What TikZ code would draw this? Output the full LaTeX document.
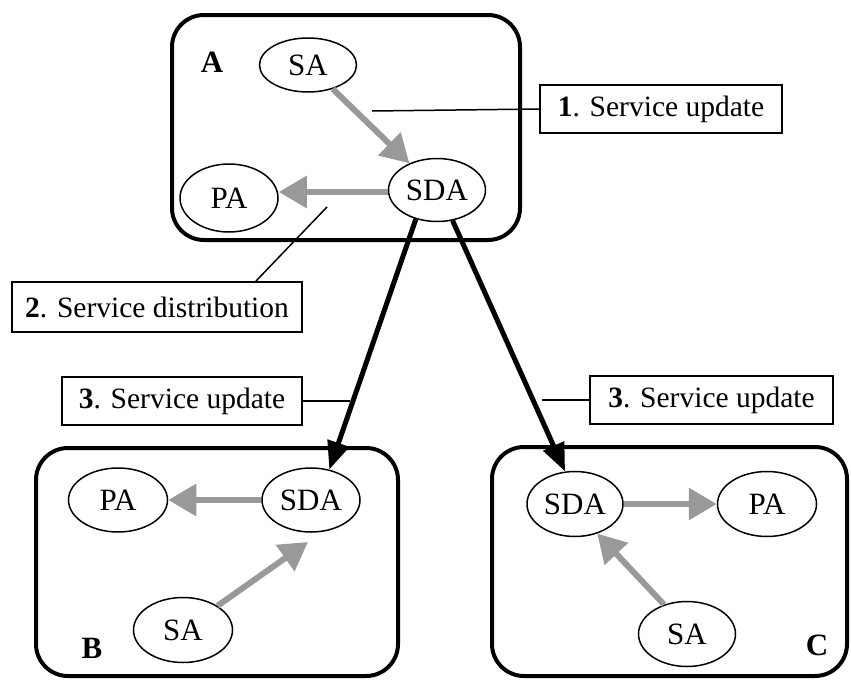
\documentclass[tikz,border=0pt]{standalone}
\usepackage{fontspec}
\setmainfont{Liberation Serif}
\usetikzlibrary{shapes.geometric,arrows.meta,calc}
\tikzset{
  agent/.style={draw=black,line width=1.5pt,ellipse,inner sep=0pt,font=\fontsize{31}{36}\selectfont},
  hostbox/.style={draw=black,line width=4pt,rounded corners=32pt},
  hostlabel/.style={font=\fontsize{31}{36}\selectfont\bfseries,inner sep=0pt},
  notebox/.style={draw=black,line width=1.8pt,rectangle,inner sep=0pt,minimum height=48pt,font=\fontsize{29.5}{34}\selectfont},
  noteline/.style={draw=black,line width=1.5pt},
  localflow/.style={draw=black!40,line width=6pt,-{Triangle[length=28pt,width=31pt]}},
  remoteflow/.style={draw=black,line width=5pt,-{Triangle[length=28pt,width=22pt]}}
}
\begin{document}
\begin{tikzpicture}[x=1pt,y=-1pt]
\useasboundingbox (0,0) rectangle (851,680);
% host boxes
\draw[hostbox] (172,15) rectangle (520,240);
\draw[hostbox] (36,448) rectangle (398,676);
\draw[hostbox] (492,447) rectangle (847,676);
\node[hostlabel] (hA) at (212,62) {A};
\node[hostlabel] (hB) at (92,648) {B};
\node[hostlabel] (hC) at (817,645) {C};
% agents in A
\node[agent,minimum width=97pt,minimum height=54pt] (saA) at (308,65) {SA};
\node[agent,minimum width=97pt,minimum height=63pt] (sdaA) at (437,190) {SDA};
\node[agent,minimum width=98pt,minimum height=68pt] (paA) at (229,198) {PA};
% agents in B
\node[agent,minimum width=99pt,minimum height=64pt] (paB) at (118,500) {PA};
\node[agent,minimum width=98pt,minimum height=64pt] (sdaB) at (311,500) {SDA};
\node[agent,minimum width=99pt,minimum height=65pt] (saB) at (183,630) {SA};
% agents in C
\node[agent,minimum width=96pt,minimum height=65pt] (sdaC) at (575,504) {SDA};
\node[agent,minimum width=99pt,minimum height=65pt] (paC) at (767,504) {PA};
\node[agent,minimum width=97pt,minimum height=65pt] (saC) at (687,634) {SA};
% local flows
\draw[localflow] (saA) -- (sdaA);
\draw[localflow] ([yshift=-2pt]sdaA.west) -- ([yshift=-2pt]sdaA.west -| paA.east);
\draw[localflow] (sdaB) -- (paB);
\coordinate (tipB) at (308,542);
\draw[localflow] (saB.35) -- (tipB);
\draw[localflow] (sdaC) -- (paC);
\draw[localflow] (saC.128) -- (sdaC.-53);
% remote flows
\draw[remoteflow] (sdaA.234) -- (sdaB.59);
\draw[remoteflow] (sdaA.-63) -- (sdaC.107);
% notes
\node[notebox,minimum width=242pt] (lab1) at (661,109) {\textbf{1}. Service update};
\node[notebox,minimum width=290pt,minimum height=50pt] (lab2) at (157,307) {\textbf{2}. Service distribution};
\node[notebox,minimum width=240pt] (lab3L) at (182,401) {\textbf{3}. Service update};
\node[notebox,minimum width=243pt] (lab3R) at (711.5,400) {\textbf{3}. Service update};
\coordinate (l1) at (372,111);
\coordinate (l2) at (327,207);
\coordinate (c3L) at (350,401);
\coordinate (c3R) at (542,400);
\draw[noteline] (l1) -- (lab1.west);
\draw[noteline] (l2) -- ([xshift=-47pt]lab2.north east);
\draw[noteline] (lab3L.east) -- (c3L);
\draw[noteline] (c3R) -- (lab3R.west);
\end{tikzpicture}
\end{document}
